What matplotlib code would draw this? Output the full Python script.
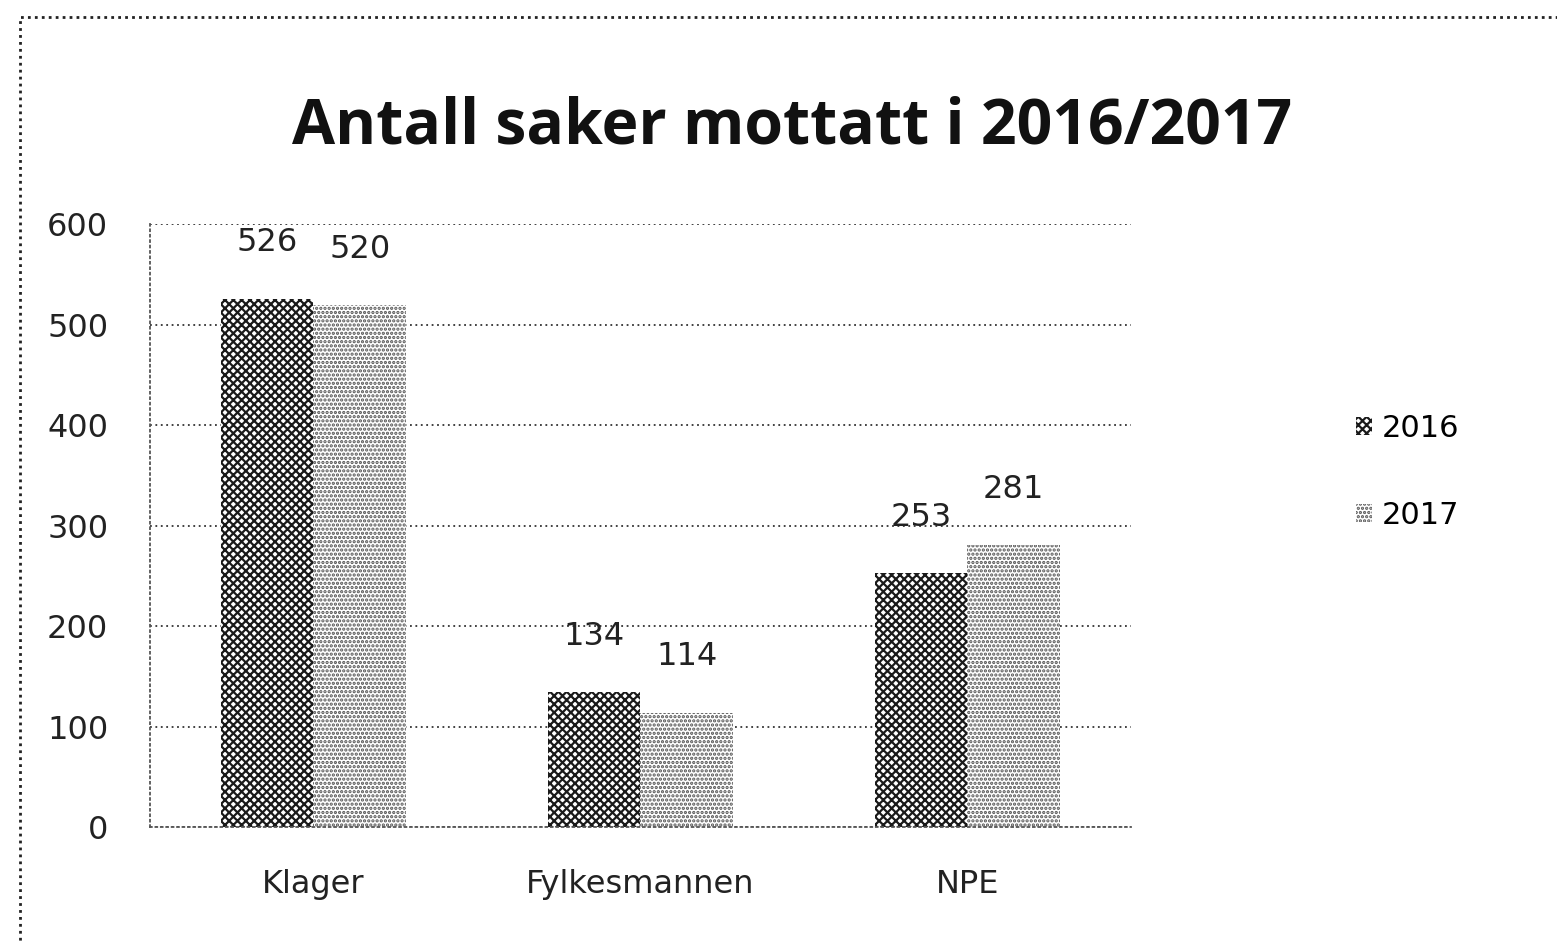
import matplotlib.pyplot as plt
import matplotlib.patches as mpatches
import numpy as np

plt.rcParams['font.family'] = ['DejaVu Sans']
plt.rcParams['hatch.linewidth'] = 1.6

categories = ["Klager", "Fylkesmannen", "NPE"]
years = ["2016", "2017"]
values_2016 = [526, 134, 253]
values_2017 = [520, 114, 281]

fig = plt.figure(figsize=(15.57, 9.42), dpi=100)
ax = fig.add_axes([0.0963, 0.122, 0.63, 0.640])

x = np.arange(len(categories))
w = 0.284
b1 = ax.bar(x - w / 2, values_2016, w, color="white", edgecolor="#1a1a1a",
            hatch="xxxx", linewidth=0, label=years[0])
b2 = ax.bar(x + w / 2, values_2017, w, color="white", edgecolor="#555555",
            hatch="....", linewidth=0, label=years[1])

for bars in (b1, b2):
    for r in bars:
        ax.annotate(str(int(r.get_height())), (r.get_x() + r.get_width() / 2, r.get_height()),
                    xytext=(0, 40), textcoords="offset points", ha="center", va="center",
                    fontsize=23, color="#222222")

ax.set_ylim(0, 600)
ax.set_xlim(-0.5, 2.5)
ax.set_yticks(range(0, 601, 100))
ax.set_xticks(x)
ax.set_xticklabels(categories)
ax.tick_params(axis="both", labelsize=23, length=0, colors="#222222")
ax.tick_params(axis="y", pad=30)
ax.tick_params(axis="x", pad=30)
ax.yaxis.grid(True, linestyle=(0, (1, 2)), color="#333333", linewidth=1.3)
ax.set_axisbelow(True)
for s in ("top", "right"):
    ax.spines[s].set_visible(False)
for s in ("left", "bottom"):
    ax.spines[s].set_linestyle((0, (1, 2)))
    ax.spines[s].set_linewidth(1.3)
    ax.spines[s].set_color("#555555")

fig.text(0.509, 0.865, "Antall saker mottatt i 2016/2017", ha="center", va="center",
         fontsize=45, fontweight="bold", family="Open Sans", color="#111111")

fig.legend(handles=[b1, b2], loc="center left", bbox_to_anchor=(0.853, 0.499),
           frameon=False, fontsize=22, handlelength=0.55, handleheight=0.55,
           handletextpad=0.3, labelspacing=1.9)

border = mpatches.Rectangle((20 / 1557, -0.1), 2, 1 - 17 / 942 + 0.1, transform=fig.transFigure,
                            fill=False, linestyle=(0, (1, 1.5)), linewidth=2, edgecolor="#222222")
fig.patches.append(border)

fig.savefig("out.png", dpi=100)
